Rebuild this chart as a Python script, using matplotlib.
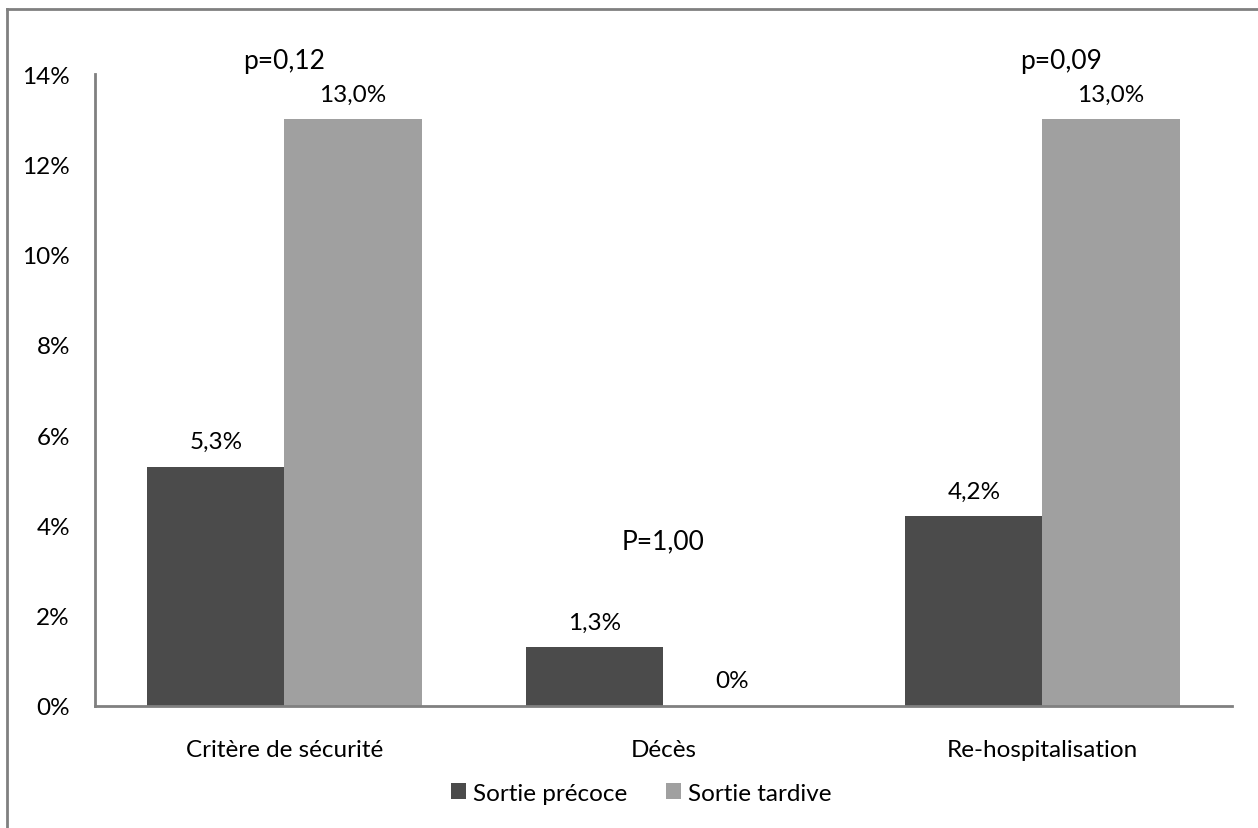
import matplotlib.pyplot as plt
from matplotlib.lines import Line2D
import numpy as np

categories = ["Critère de sécurité", "Décès", "Re-hospitalisation"]
precoce = [5.3, 1.3, 4.2]
tardive = [13.0, 0.0, 13.0]
precoce_labels = ["5,3%", "1,3%", "4,2%"]
tardive_labels = ["13,0%", "0%", "13,0%"]
pvalues = ["p=0,12", "P=1,00", "p=0,09"]
pvalue_pos = [(0.0, 14.3), (1.0, 3.65), (2.05, 14.3)]
yticks = [0, 2, 4, 6, 8, 10, 12, 14]

plt.rcParams['font.family'] = ['Lato', 'DejaVu Sans']
dark = "#4b4b4b"
light = "#a0a0a0"
fs = 17.5

fig = plt.figure(figsize=(12.58, 8.29), dpi=100)
ax = fig.add_axes([0.0755, 0.1472, 0.9038, 0.7623])

x = np.arange(len(categories))
w = 0.362
ax.bar(x - w/2, precoce, w, color=dark, label="Sortie précoce")
ax.bar(x + w/2, tardive, w, color=light, label="Sortie tardive")

for i in range(len(categories)):
    ax.annotate(precoce_labels[i], (x[i] - w/2, precoce[i]), xytext=(0, 18),
                textcoords="offset points", ha="center", va="center", fontsize=fs)
    ax.annotate(tardive_labels[i], (x[i] + w/2, tardive[i]), xytext=(0, 18),
                textcoords="offset points", ha="center", va="center", fontsize=fs)

for txt, (px, py) in zip(pvalues, pvalue_pos):
    ax.text(px, py, txt, ha="center", va="center", fontsize=19, clip_on=False)

ax.set_xlim(-0.5, 2.5)
ax.set_ylim(0, 14)
ax.set_yticks(yticks)
ax.set_yticklabels([f"{t}%" for t in yticks])
ax.set_xticks(x)
ax.set_xticklabels(categories)
ax.tick_params(axis="y", length=0, pad=18, labelsize=fs)
ax.tick_params(axis="x", length=0, pad=24, labelsize=fs)
for s in ["top", "right"]:
    ax.spines[s].set_visible(False)
for s in ["left", "bottom"]:
    ax.spines[s].set_color("#808080")
    ax.spines[s].set_linewidth(2)

fig.legend(loc="center", bbox_to_anchor=(0.51, 0.042), ncol=2, frameon=False,
           fontsize=fs, handlelength=0.6, handleheight=0.6, handletextpad=0.3,
           columnspacing=1.6)

# frame border (only left and top visible in the crop)
fig.add_artist(Line2D([0.0056, 0.0056], [0, 0.988], color="#808080", lw=2))
fig.add_artist(Line2D([0.0056, 1.0], [0.988, 0.988], color="#808080", lw=2))

fig.savefig("out.png", dpi=100)
